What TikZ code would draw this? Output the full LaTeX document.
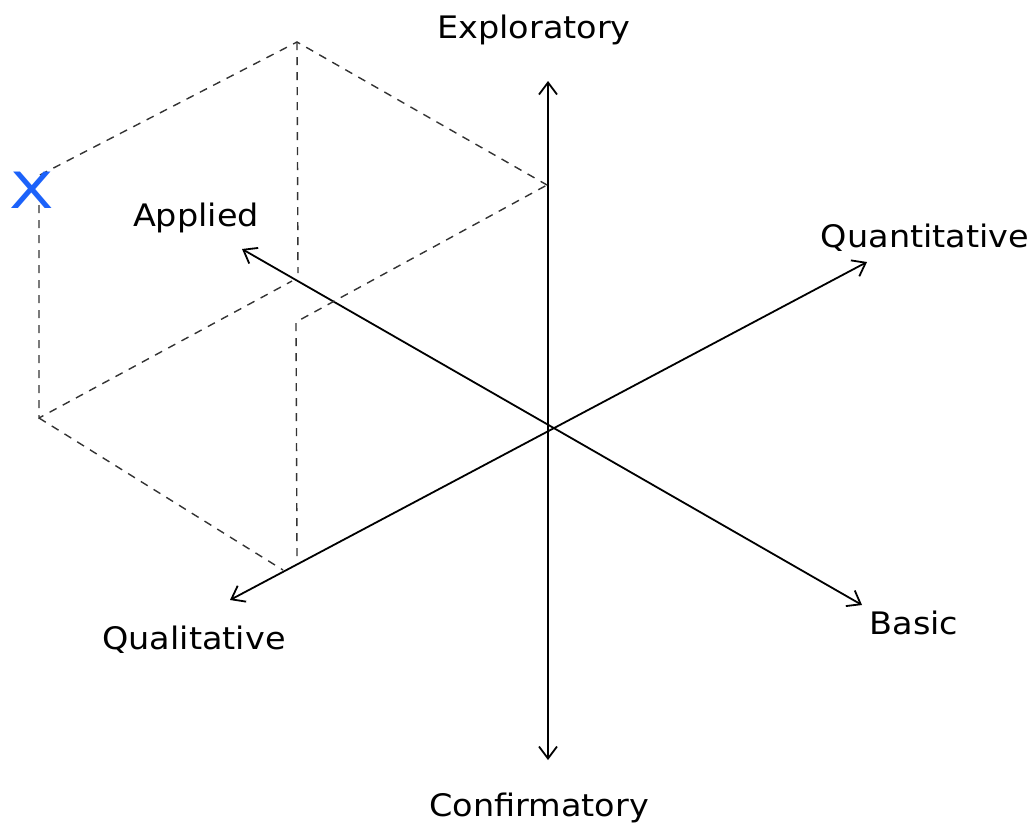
\documentclass[tikz,border=0pt]{standalone}
\usepackage{fontspec}
\setmainfont{DejaVu Sans}[FakeStretch=1.08]
\newfontfamily\markfont{DejaVu Sans}[FakeStretch=1.3]
\usetikzlibrary{arrows.meta}
\definecolor{markblue}{RGB}{28,98,250}
\begin{document}
\begin{tikzpicture}[x=1pt,y=-1pt,
  axis/.style={line width=1.8pt,
    {Straight Barb[length=12pt,width=18pt]}-{Straight Barb[length=12pt,width=18pt]}},
  guide/.style={line width=1.4pt,black!80,dash pattern=on 8pt off 7pt},
  lbl/.style={font=\fontsize{31}{34}\selectfont,inner sep=0pt}]
\useasboundingbox (0,0) rectangle (1035,831);
% axis end points
\coordinate (up) at (548,81);
\coordinate (down) at (548,760);
\coordinate (app) at (242,249);
\coordinate (bas) at (862,605);
\coordinate (qnt) at (867,262);
\coordinate (qul) at (230,600);
% corners of the dashed box
\coordinate (T) at (297,42);
\coordinate (R) at (547,185);
\coordinate (Xc) at (40,175);
\coordinate (Xb) at (39,205);
\coordinate (L) at (39,418);
\coordinate (Pa) at (292,281);
\coordinate (Ta) at (298,273);
\coordinate (V) at (296,322);
\coordinate (Vb) at (297,556);
\coordinate (Pq) at (283,570);
% axes
\draw[axis] (up) -- (down);
\draw[axis] (app) -- (bas);
\draw[axis] (qnt) -- (qul);
% dashed box
\draw[guide] (Xc) -- (T) -- (R);
\draw[guide] (T) -- (Ta);
\draw[guide] (Xb) -- (L) -- (Pa);
\draw[guide] (L) -- (Pq);
\draw[guide] (Vb) -- (V) -- (R);
% labels
\node[lbl] (lexp) at (534,30) {Exploratory};
\node[lbl] (lcon) at (539,808) {Confirmatory};
\node[lbl] (lapp) at (196,218) {Applied};
\node[lbl] (lbas) at (914,623) {Basic};
\node[lbl] (lqnt) at (925,238) {Quantitative};
\node[lbl] (lqul) at (194,640) {Qualitative};
\node[inner sep=0pt,text=markblue,font=\markfont\fontsize{50}{52}\selectfont] (mx) at (32,190) {X};
\end{tikzpicture}
\end{document}
